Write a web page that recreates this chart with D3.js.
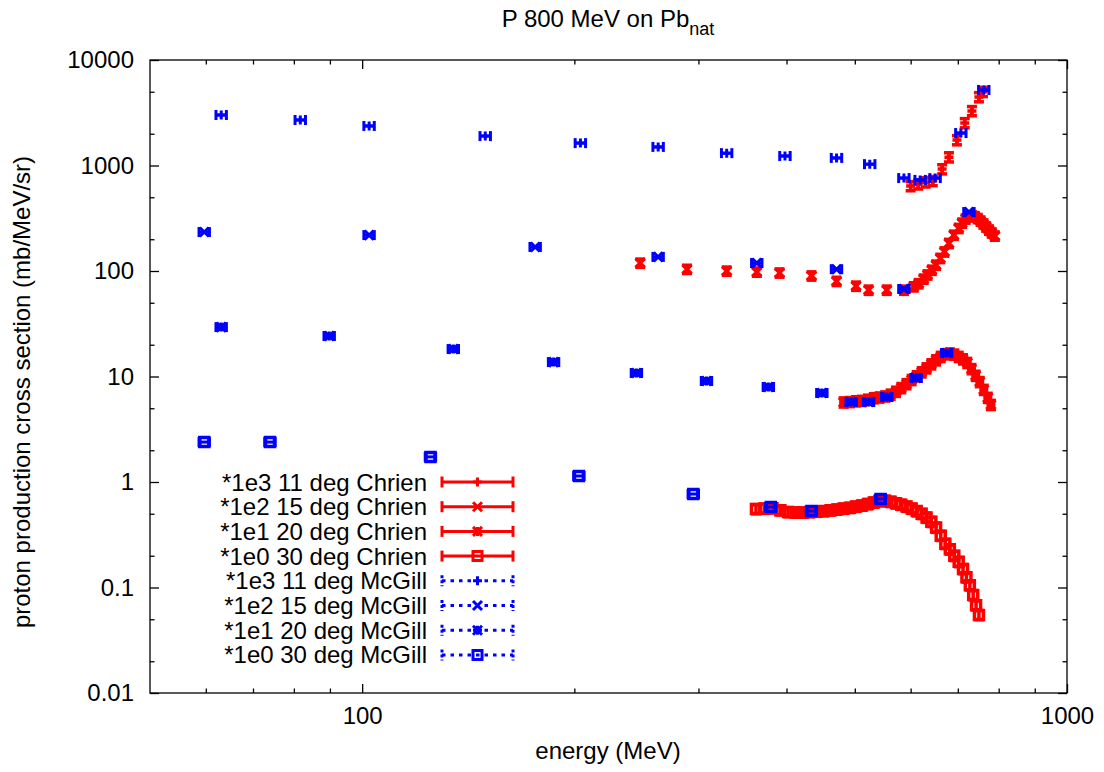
<!DOCTYPE html>
<html>
<head>
<meta charset="utf-8">
<script src="https://cdn.jsdelivr.net/npm/d3@7"></script>
<style>
body { margin: 0; background: #fff; }
text { font-family: "Liberation Sans", Arial, sans-serif; fill: #000; }
</style>
</head>
<body>
<svg id="chart" width="1104" height="772"></svg>
<script>
// energy (MeV) / cross section, values already multiplied by the factor in the legend
var chrien11E = [600, 615, 630, 645, 665, 680, 698, 716, 733, 750, 760];
var chrien11Y = [640, 665, 695, 715, 925, 1200, 1745, 2530, 3290, 4460, 5000];

var chrien15E = [248, 289, 329, 363, 391, 434, 471, 502, 523, 555, 587, 606, 616, 626, 634, 643, 652, 661, 670, 680,
                 691, 702, 710, 718, 726, 733, 740, 747, 754, 761, 768, 775, 782, 790];
var chrien15Y = [119, 104, 100, 98, 96, 90, 80, 72, 66, 66, 66, 71, 76, 84, 92, 102, 114, 132, 152, 183,
                 219, 254, 285, 312, 330, 335, 328, 315, 298, 280, 262, 245, 230, 215];

var chrien20E = [482, 492, 502, 512, 522, 532, 542, 552, 562, 572, 582, 592, 602, 612, 622, 632, 642, 652, 662, 672,
                 682, 692, 702, 712, 722, 732, 742, 752, 762, 772, 780];
var chrien20Y = [5.7, 5.75, 5.85, 5.9, 6.05, 6.25, 6.35, 6.5, 6.75, 7.2, 7.8, 8.5, 9.3, 10.1, 11.0, 12.0, 13.1, 14.3, 15.4, 16.3,
                 16.6, 16.2, 15.4, 14.6, 13.5, 11.8, 10.2, 8.9, 7.5, 6.3, 5.4];

var chrien30E = [362, 372, 382, 392, 402, 412, 422, 432, 442, 452, 462, 472, 482, 492, 502, 512, 522, 532, 542, 552,
                 562, 572, 582, 592, 602, 612, 622, 632, 642, 652, 662, 672, 682, 692, 702, 712, 720, 728, 736, 743, 750];
var chrien30Y = [0.555, 0.56, 0.565, 0.54, 0.52, 0.515, 0.515, 0.52, 0.525, 0.53, 0.54, 0.55, 0.56, 0.57, 0.585, 0.6, 0.62, 0.64, 0.66, 0.665,
                 0.65, 0.63, 0.61, 0.585, 0.56, 0.53, 0.5, 0.46, 0.42, 0.37, 0.31, 0.26, 0.23, 0.2, 0.175, 0.15, 0.125, 0.105, 0.085, 0.068, 0.055];

var mcgill11E = [63.1, 81.7, 102.3, 149.5, 204, 263, 329, 398, 471, 525, 587, 619, 650, 707, 762];
var mcgill11Y = [3010, 2700, 2370, 1900, 1630, 1500, 1310, 1230, 1180, 1030, 760, 730, 760, 2030, 5200];

var mcgill15E = [59.7, 102.3, 176, 263, 363, 471, 587, 726];
var mcgill15Y = [234, 219, 169, 136, 119, 104, 67.5, 362];

var mcgill20E = [63.1, 89.8, 134.7, 186.9, 245, 308, 377, 449, 494, 523, 555, 611, 675];
var mcgill20Y = [29.4, 24.2, 18.2, 13.7, 10.8, 9.07, 7.95, 6.98, 5.73, 5.73, 6.39, 9.68, 16.7];

var mcgill30E = [59.7, 74.0, 125, 203, 295, 380, 434, 544];
var mcgill30Y = [2.39, 2.39, 1.73, 1.14, 0.769, 0.579, 0.531, 0.69];

// relative error bars: y for Chrien, energy for McGill
var chrienErr = [0.1, 0.09, 0.1, 0.1];
var mcgillErr = [0.017, 0.017, 0.017, 0.017];

var legendLabels = ['*1e3 11 deg Chrien', '*1e2 15 deg Chrien', '*1e1 20 deg Chrien', '*1e0 30 deg Chrien',
                    '*1e3 11 deg McGill', '*1e2 15 deg McGill', '*1e1 20 deg McGill', '*1e0 30 deg McGill'];

var xMajor = [100, 1000];
var xMinor = [60, 70, 80, 90, 200, 300, 400, 500, 600, 700, 800, 900];
var yMajor = [0.01, 0.1, 1, 10, 100, 1000, 10000];
var yMinor = [0.02, 0.05, 0.2, 0.5, 2, 5, 20, 50, 200, 500, 2000, 5000];

var symbols = ['plus', 'cross', 'star', 'square'];

var series = [
    { e: chrien11E, y: chrien11Y, err: chrienErr[0], sym: 'plus', kind: 'chrien' },
    { e: chrien15E, y: chrien15Y, err: chrienErr[1], sym: 'cross', kind: 'chrien' },
    { e: chrien20E, y: chrien20Y, err: chrienErr[2], sym: 'star', kind: 'chrien' },
    { e: chrien30E, y: chrien30Y, err: chrienErr[3], sym: 'square', kind: 'chrien' },
    { e: mcgill11E, y: mcgill11Y, err: mcgillErr[0], sym: 'plus', kind: 'mcgill' },
    { e: mcgill15E, y: mcgill15Y, err: mcgillErr[1], sym: 'cross', kind: 'mcgill' },
    { e: mcgill20E, y: mcgill20Y, err: mcgillErr[2], sym: 'star', kind: 'mcgill' },
    { e: mcgill30E, y: mcgill30Y, err: mcgillErr[3], sym: 'square', kind: 'mcgill' }
];

var RED = '#ff0000';
var BLUE = '#0000ff';

var svg = d3.select('#chart');
var x = d3.scaleLog().domain([50, 1000]).range([150, 1067]);
var y = d3.scaleLog().domain([0.01, 10000]).range([693, 60]);

function symbolPath(type, s) {
    var plus = 'M' + (-s) + ',0H' + s + 'M0,' + (-s) + 'V' + s;
    var cross = 'M' + (-s) + ',' + (-s) + 'L' + s + ',' + s + 'M' + (-s) + ',' + s + 'L' + s + ',' + (-s);
    if (type == 'plus') return plus;
    if (type == 'cross') return cross;
    if (type == 'star') return plus + cross;
    return 'M' + (-s) + ',' + (-s) + 'H' + s + 'V' + s + 'H' + (-s) + 'Z';
}

// axes, ticks inward and mirrored
function fmt(d) { return d >= 1 ? d3.format('d')(d) : String(d); }

var axisG = svg.append('g').attr('class', 'axes');
axisG.append('g').attr('transform', 'translate(0,693)')
    .call(d3.axisBottom(x).tickValues(xMajor).tickSize(-9).tickPadding(14).tickFormat(fmt));
axisG.append('g').attr('transform', 'translate(0,693)')
    .call(d3.axisBottom(x).tickValues(xMinor).tickSize(-4.5).tickFormat(''));
axisG.append('g').attr('transform', 'translate(0,60)')
    .call(d3.axisTop(x).tickValues(xMajor).tickSize(-9).tickFormat(''));
axisG.append('g').attr('transform', 'translate(0,60)')
    .call(d3.axisTop(x).tickValues(xMinor).tickSize(-4.5).tickFormat(''));
axisG.append('g').attr('transform', 'translate(150,0)')
    .call(d3.axisLeft(y).tickValues(yMajor).tickSize(-9).tickPadding(16).tickFormat(fmt));
axisG.append('g').attr('transform', 'translate(150,0)')
    .call(d3.axisLeft(y).tickValues(yMinor).tickSize(-4.5).tickFormat(''));
axisG.append('g').attr('transform', 'translate(1067,0)')
    .call(d3.axisRight(y).tickValues(yMajor).tickSize(-9).tickFormat(''));
axisG.append('g').attr('transform', 'translate(1067,0)')
    .call(d3.axisRight(y).tickValues(yMinor).tickSize(-4.5).tickFormat(''));
axisG.selectAll('.domain').remove();
axisG.selectAll('.tick line').attr('stroke', '#000').attr('stroke-width', 1.3);
axisG.selectAll('.tick text').style('font-size', '24px').attr('fill', '#000');

svg.append('rect').attr('x', 150).attr('y', 60).attr('width', 917).attr('height', 633)
    .attr('fill', 'none').attr('stroke', '#000').attr('stroke-width', 1.3);

// data points with error bars
var plotG = svg.append('g');
series.forEach(function (s) {
    var col = s.kind == 'chrien' ? RED : BLUE;
    var sw = s.kind == 'chrien' ? 3.5 : 3;
    var g = plotG.append('g').attr('stroke', col).attr('stroke-width', sw).attr('fill', 'none');
    s.e.forEach(function (ev, i) {
        var px = x(ev), py = y(s.y[i]);
        var p = g.append('g');
        if (s.kind == 'chrien') {
            var y1 = y(s.y[i] * (1 + s.err)), y0 = y(s.y[i] * (1 - s.err));
            p.append('line').attr('x1', px).attr('x2', px).attr('y1', y0).attr('y2', y1);
            p.append('line').attr('x1', px - 5).attr('x2', px + 5).attr('y1', y0).attr('y2', y0);
            p.append('line').attr('x1', px - 5).attr('x2', px + 5).attr('y1', y1).attr('y2', y1);
        } else {
            var x0 = x(ev * (1 - s.err)), x1 = x(ev * (1 + s.err));
            p.append('line').attr('x1', x0).attr('x2', x1).attr('y1', py).attr('y2', py);
            p.append('line').attr('x1', x0).attr('x2', x0).attr('y1', py - 5).attr('y2', py + 5);
            p.append('line').attr('x1', x1).attr('x2', x1).attr('y1', py - 5).attr('y2', py + 5);
        }
        p.append('path').attr('d', symbolPath(s.sym, 4.5))
            .attr('stroke-width', s.sym == 'square' ? 3.5 : sw)
            .attr('transform', 'translate(' + px + ',' + py + ')');
    });
});

// legend
var legG = svg.append('g');
legendLabels.forEach(function (lab, i) {
    var ly = 482 + i * 24.7;
    var col = i < 4 ? RED : BLUE;
    var dash = i < 4 ? null : '3.5,5';
    legG.append('text').attr('x', 427).attr('y', ly + 8.5).attr('text-anchor', 'end')
        .style('font-size', '24px').text(lab);
    var g = legG.append('g').attr('stroke', col).attr('stroke-width', 3).attr('fill', 'none');
    g.append('line').attr('x1', 442).attr('x2', 513).attr('y1', ly).attr('y2', ly).attr('stroke-dasharray', dash);
    g.append('line').attr('x1', 442).attr('x2', 442).attr('y1', ly - 5.5).attr('y2', ly + 5.5).attr('stroke-dasharray', i < 4 ? null : '3,2');
    g.append('line').attr('x1', 513).attr('x2', 513).attr('y1', ly - 5.5).attr('y2', ly + 5.5).attr('stroke-dasharray', i < 4 ? null : '3,2');
    g.append('path').attr('d', symbolPath(symbols[i % 4], 4.5))
        .attr('transform', 'translate(477.5,' + ly + ')');
});

// titles
var title = svg.append('text').attr('x', 608).attr('y', 27).attr('text-anchor', 'middle').style('font-size', '24px');
title.append('tspan').text('P 800 MeV on Pb');
title.append('tspan').attr('dy', 8).style('font-size', '18px').text('nat');

svg.append('text').attr('x', 608).attr('y', 759).attr('text-anchor', 'middle').style('font-size', '24px')
    .text('energy (MeV)');
svg.append('text').attr('transform', 'translate(30,392) rotate(-90)').attr('text-anchor', 'middle')
    .style('font-size', '24px').text('proton production cross section (mb/MeV/sr)');
</script>
</body>
</html>
